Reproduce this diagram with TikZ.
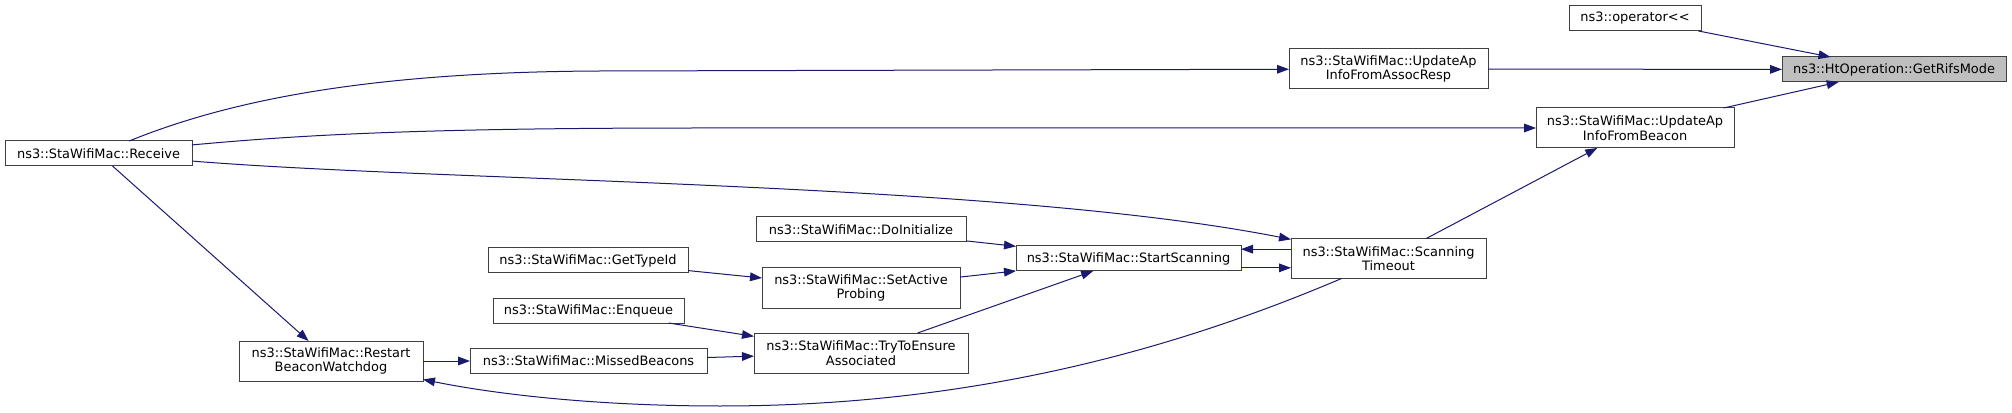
\documentclass[tikz,border=0pt]{standalone}
\usepackage{fontspec}
\setmainfont{DejaVu Sans}
\usepackage{tikz}
\usetikzlibrary{arrows.meta}

\definecolor{edgeblue}{HTML}{191970}
\definecolor{rootgrey}{HTML}{BFBFBF}

\begin{document}
\begin{tikzpicture}[
  x=0.75pt, y=-0.75pt,
  fn/.style={draw=black!75, fill=white, line width=0.75pt, align=center, font=\fontsize{9.7}{10.8}\selectfont, inner sep=0pt, outer sep=0pt, minimum height=18.75pt},
  fntwo/.style={fn, minimum height=30pt},
  root/.style={fn, fill=rootgrey},
  call/.style={-{Triangle[length=9pt, width=6.5pt]}, line width=0.75pt, draw=edgeblue}
]
  \useasboundingbox (0,0) rectangle (2012,413);

  % Callee (root) and direct callers
  \node[root, minimum width=168pt] (rifs) at (1894,69.5) {ns3::HtOperation::GetRifsMode};
  \node[fn, minimum width=99pt] (op) at (1635,18.5) {ns3::operator{<}{<}};
  \node[fntwo, minimum width=149.25pt] (assoc) at (1388.5,69) {ns3::StaWifiMac::UpdateAp\\InfoFromAssocResp};
  \node[fntwo, minimum width=148.5pt] (beacon) at (1635,128) {ns3::StaWifiMac::UpdateAp\\InfoFromBeacon};
  \draw[call] (op) -- (rifs);
  \draw[call] (assoc) -- (rifs);
  \draw[call] (beacon) -- (rifs);

  % Scanning
  \node[fntwo, minimum width=146.25pt] (scan) at (1388.5,258.5) {ns3::StaWifiMac::Scanning\\Timeout};
  \node[fn, minimum width=168.75pt] (start) at (1128.5,258.5) {ns3::StaWifiMac::StartScanning};
  \node[fn, minimum width=157.5pt] (doinit) at (861,229.5) {ns3::StaWifiMac::DoInitialize};
  \node[fntwo, minimum width=148.5pt] (setact) at (861,288) {ns3::StaWifiMac::SetActive\\Probing};
  \node[fntwo, minimum width=160.5pt] (try) at (861,353) {ns3::StaWifiMac::TryToEnsure\\Associated};
  \draw[call] (scan) -- (beacon);
  \draw[call] ([yshift=7pt]scan.west) -- ([yshift=7pt]start.east);
  \draw[call] ([yshift=-7pt]start.east) -- ([yshift=-7pt]scan.west);
  \draw[call] (doinit) -- (start);
  \draw[call] (setact) -- (start);
  \draw[call] (try) -- (start);

  % Left side callers
  \node[fn, minimum width=150pt] (typeid) at (588,260.5) {ns3::StaWifiMac::GetTypeId};
  \node[fn, minimum width=143.25pt] (enq) at (588.5,310.5) {ns3::StaWifiMac::Enqueue};
  \node[fn, minimum width=177.75pt] (missed) at (588.5,361) {ns3::StaWifiMac::MissedBeacons};
  \node[fntwo, minimum width=138pt] (restart) at (331,361) {ns3::StaWifiMac::Restart\\BeaconWatchdog};
  \node[fn, minimum width=140.25pt] (recv) at (98.5,153.5) {ns3::StaWifiMac::Receive};
  \draw[call] (typeid) -- (setact);
  \draw[call] (enq) -- (try);
  \draw[call] (missed) -- (try);
  \draw[call] (restart) -- (missed);
  \draw[call] (recv) -- (restart);

  % Long edges from Receive and ScanningTimeout
  \draw[call] (recv) .. controls (230,100) and (370,72) .. (600,71) -- (assoc);
  \draw[call] (recv) .. controls (300,135) and (420,128) .. (700,128) -- (beacon);
  \draw[call] (recv) .. controls (450,182) and (1000,182) .. (scan);
  \draw[call] (scan) .. controls (1150,360) and (950,406) .. (720,406) .. controls (600,406) and (500,395) .. (restart);

\end{tikzpicture}
\end{document}
